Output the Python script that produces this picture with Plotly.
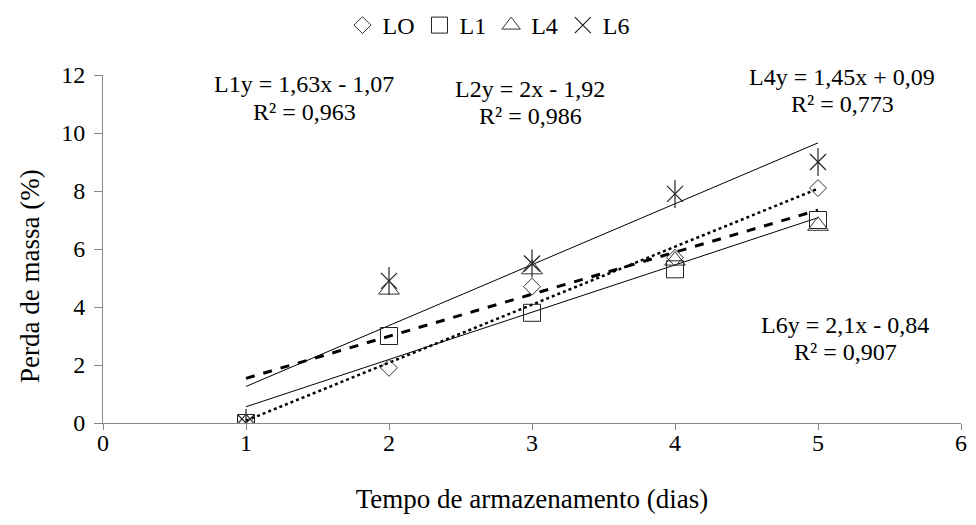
import plotly.graph_objects as go

days = [1, 2, 3, 4, 5]
L0 = [0.0, 1.9, 4.7, 5.7, 8.1]
L1 = [0.0, 3.0, 3.8, 5.3, 7.0]
L4 = [0.0, 4.6, 5.3, 5.6, 6.8]
L6 = [0.0, 4.9, 5.5, 7.9, 9.0]

# trend equations (slope, intercept) as printed on the chart
fit_L0 = (2.0, -1.92)
fit_L1 = (1.63, -1.07)
fit_L4 = (1.45, 0.09)
fit_L6 = (2.1, -0.84)

FONT = '"Times New Roman", "Liberation Serif", Times, serif'
FS = 24
TFS = 27
fig = go.Figure()

def trend(fit):
    return [fit[0] * x + fit[1] for x in days]

fig.add_trace(go.Scatter(x=days, y=trend(fit_L6), mode="lines", line=dict(color="black", width=1), showlegend=False, hoverinfo="skip"))
fig.add_trace(go.Scatter(x=days, y=trend(fit_L1), mode="lines", line=dict(color="black", width=1), showlegend=False, hoverinfo="skip"))
fig.add_trace(go.Scatter(x=days, y=trend(fit_L0), mode="lines", line=dict(color="black", width=2.5, dash="dot"), showlegend=False, hoverinfo="skip"))
fig.add_trace(go.Scatter(x=days, y=trend(fit_L4), mode="lines", line=dict(color="black", width=3, dash="dash"), showlegend=False, hoverinfo="skip"))

fig.add_trace(go.Scatter(x=days, y=L0, mode="markers", name="LO",
                         marker=dict(symbol="diamond-open", size=13, color="#333", line=dict(width=1))))
fig.add_trace(go.Scatter(x=days, y=L1, mode="markers", name="L1",
                         marker=dict(symbol="square-open", size=17, color="#222", line=dict(width=1))))
fig.add_trace(go.Scatter(x=days, y=L4, mode="markers", name="L4",
                         marker=dict(symbol="triangle-up-open", size=18, color="#333", line=dict(width=1))))
fig.add_trace(go.Scatter(x=days, y=L6, mode="markers", name="L6",
                         marker=dict(symbol="x-thin-open", size=16, color="#222", line=dict(width=1.2))))
fig.add_trace(go.Scatter(x=days, y=L6, mode="markers", showlegend=False, hoverinfo="skip",
                         marker=dict(symbol="line-ns-open", size=20, color="#222", line=dict(width=1.2))))

pl, pr, pt, pb = 95, 953, 67, 415
ann = [
    (296, 76, "L1y = 1,63x - 1,07"), (296, 104, "R² = 0,963"),
    (522, 81, "L2y = 2x - 1,92"), (522, 108, "R² = 0,986"),
    (834, 69, "L4y = 1,45x + 0,09"), (834, 96, "R² = 0,773"),
    (837, 317, "L6y = 2,1x - 0,84"), (837, 344, "R² = 0,907"),
]
annotations = [dict(x=(px - pl) / (pr - pl), y=(pb - py) / (pb - pt), xref="paper", yref="paper",
                    text=t, showarrow=False, font=dict(family=FONT, size=FS, color="black"),
                    xanchor="center", yanchor="middle") for (px, py, t) in ann]
# y-axis title, centred like the original
annotations.append(dict(x=(22 - pl) / (pr - pl), y=(pb - 268) / (pb - pt), xref="paper", yref="paper",
                        text="Perda de massa (%)", textangle=-90, showarrow=False,
                        font=dict(family=FONT, size=TFS, color="black"),
                        xanchor="center", yanchor="middle"))

fig.update_layout(
    width=976, height=525,
    margin=dict(l=pl, r=976 - pr, t=pt, b=525 - pb, autoexpand=False),
    plot_bgcolor="white", paper_bgcolor="white",
    font=dict(family=FONT, size=FS, color="black"),
    annotations=annotations,
    legend=dict(orientation="h", x=0.4928, xanchor="center", xref="container",
                y=(pb + 5) / (pb - pt), yanchor="top", yref="paper",
                font=dict(family=FONT, size=FS, color="black"), itemwidth=30,
                tracegroupgap=0),
    xaxis=dict(range=[0, 6], dtick=1, showgrid=False, zeroline=False, showline=True,
               linecolor="#888", linewidth=1, ticks="outside", tickcolor="#888", ticklen=6,
               ticklabelstandoff=-8, automargin=False,
               tickfont=dict(family=FONT, size=FS, color="black"),
               title=dict(text="Tempo de armazenamento (dias)", standoff=34,
                          font=dict(family=FONT, size=TFS, color="black"))),
    yaxis=dict(range=[0, 12], dtick=2, showgrid=False, zeroline=False, showline=True,
               linecolor="#888", linewidth=1, ticks="outside", tickcolor="#888", ticklen=8,
               ticklabelstandoff=4, automargin=False,
               tickfont=dict(family=FONT, size=FS, color="black")),
)

fig.write_html("out.html")
